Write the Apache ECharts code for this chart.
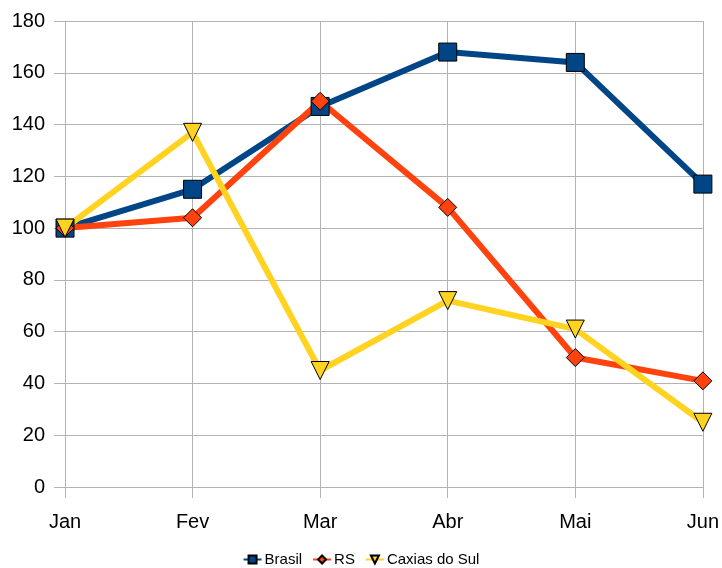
<!DOCTYPE html>
<html>
<head>
<meta charset="utf-8">
<script src="https://cdn.jsdelivr.net/npm/echarts@6/dist/echarts.min.js"></script>
<style>
html,body{margin:0;padding:0;background:#fff;}
#chart{width:722px;height:568px;}
</style>
</head>
<body>
<div id="chart"></div>
<script>
// meses e valores
var months = ['Jan', 'Fev', 'Mar', 'Abr', 'Mai', 'Jun'];
var brasil = [100, 115, 147, 168, 164, 117];
var rs = [100, 104, 149, 108, 50, 41];
var caxias = [100, 137, 45, 72, 61, 25];

var chart = echarts.init(document.getElementById('chart'));

function lineSeries(name, data, color, symbol, size, rotate) {
	return {
		name: name,
		type: 'line',
		data: data,
		symbol: symbol,
		symbolSize: size,
		symbolRotate: rotate || 0,
		showAllSymbol: true,
		lineStyle: { color: color, width: 6 },
		itemStyle: { color: color, borderColor: '#000', borderWidth: 1 },
		emphasis: { disabled: true },
		animation: false
	};
}

chart.setOption({
	backgroundColor: '#fff',
	textStyle: { fontFamily: 'Liberation Sans' },
	grid: { left: 65, right: 18, top: 21, bottom: 81, containLabel: false },
	legend: {
		bottom: 1,
		left: 'center',
		padding: 0,
		itemWidth: 18,
		itemHeight: 10,
		itemGap: 10,
		textStyle: { fontSize: 15, color: '#000', fontFamily: 'Liberation Sans', padding: [0, 0, 0, -2] },
		data: ['Brasil', 'RS', 'Caxias do Sul']
	},
	xAxis: {
		type: 'category',
		data: months,
		boundaryGap: false,
		axisLine: { lineStyle: { color: '#b3b3b3' } },
		axisTick: { show: true, length: 11, alignWithLabel: true, lineStyle: { color: '#b3b3b3' } },
		axisLabel: { fontSize: 20, color: '#000', margin: 25 },
		splitLine: { show: true, lineStyle: { color: '#b3b3b3' } }
	},
	yAxis: {
		type: 'value',
		min: 0,
		max: 180,
		interval: 20,
		axisLine: { show: true, lineStyle: { color: '#b3b3b3' } },
		axisTick: { show: true, length: 11, lineStyle: { color: '#b3b3b3' } },
		axisLabel: { fontSize: 20, color: '#000', margin: 20 },
		splitLine: { show: true, lineStyle: { color: '#b3b3b3' } }
	},
	series: [
		lineSeries('Brasil', brasil, '#004586', 'rect', 18),
		lineSeries('RS', rs, '#ff420e', 'diamond', 18),
		lineSeries('Caxias do Sul', caxias, '#ffd320', 'triangle', 18, 180)
	]
});
</script>
</body>
</html>
